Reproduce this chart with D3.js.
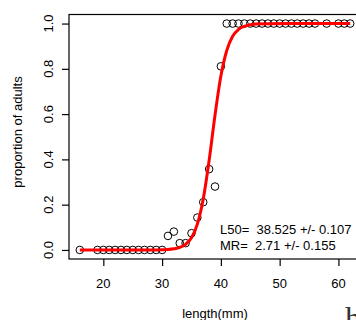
<!DOCTYPE html>
<html>
<head>
<meta charset="utf-8">
<script src="https://cdn.jsdelivr.net/npm/d3@7"></script>
<style>
body{margin:0;background:#fff;}
svg{display:block;font-family:"Liberation Sans",Arial,sans-serif;}
.tick-label,.axis-title,.note{font-size:13px;fill:#000;}
.note{white-space:pre;}
</style>
</head>
<body>
<div id="chart"></div>
<script>
// observed proportions by length (mm)
var lengths=[16,19,20,21,22,23,24,25,26,27,28,29,30,31,32,33,34,35,36,37,38,39,40,
    41,42,43,44,45,46,47,48,49,50,51,52,53,54,55,56,58,60,61,62];
var props=[0,0,0,0,0,0,0,0,0,0,0,0,0,0.062,0.081,0.03,0.03,0.074,0.143,0.211,0.357,0.28,0.811,
    1,1,1,1,1,1,1,1,1,1,1,1,1,1,1,1,1,1,1,1];
// fitted curve
var curveL=[16,28,30,31,32,33,34,35,36,37,38,39,40,41,42,43,44,45,46,48,52,62];
var curveP=[0,0.0002,0.001,0.002,0.005,0.011,0.025,0.054,0.114,0.225,0.395,0.595,0.768,0.881,0.944,0.974,0.988,0.995,0.998,0.9995,1,1];
var xTicks=[20,30,40,50,60];
var yTicks=[0,0.2,0.4,0.6,0.8,1.0];
var notes=["L50=  38.525 +/- 0.107","MR=  2.71 +/- 0.155"];

var W=356,H=320;
var svg=d3.select("#chart").append("svg").attr("width",W).attr("height",H);

var x=d3.scaleLinear().domain([14.16,63.84]).range([69,361]);
var y=d3.scaleLinear().domain([-0.04,1.04]).range([259,14.5]);

// box
svg.append("rect").attr("x",69).attr("y",14.5).attr("width",292).attr("height",244.5)
    .attr("fill","none").attr("stroke","#000").attr("stroke-width",1.2);

// axes (R style: ticks outward, labels set separately)
var gx=svg.append("g").attr("transform","translate(0,259)")
    .call(d3.axisBottom(x).tickValues(xTicks).tickSize(7).tickFormat(""));
gx.select(".domain").remove();
gx.selectAll("line").attr("stroke","#000").attr("stroke-width",1.2);
svg.selectAll("text.xl").data(xTicks).enter().append("text").attr("class","tick-label xl")
    .attr("x",function(d){return x(d);}).attr("y",288).attr("text-anchor","middle")
    .text(function(d){return d;});

var gy=svg.append("g").attr("transform","translate(69,0)")
    .call(d3.axisLeft(y).tickValues(yTicks).tickSize(7).tickFormat(""));
gy.select(".domain").remove();
gy.selectAll("line").attr("stroke","#000").attr("stroke-width",1.2);
svg.selectAll("text.yl").data(yTicks).enter().append("text").attr("class","tick-label yl")
    .attr("transform",function(d){return "translate(53,"+y(d)+") rotate(-90)";})
    .attr("text-anchor","middle").text(function(d){return d3.format(".1f")(d);});

// points
svg.selectAll("circle.pt").data(lengths).enter().append("circle").attr("class","pt")
    .attr("cx",function(d){return x(d);}).attr("cy",function(d,i){return y(props[i]);})
    .attr("r",3.8).attr("fill","none").attr("stroke","#000").attr("stroke-width",1);

// fitted curve
var line=d3.line().x(function(d){return x(d);}).y(function(d,i){return y(curveP[i]);}).curve(d3.curveMonotoneX);
svg.append("path").attr("d",line(curveL)).attr("fill","none").attr("stroke","#ff0000").attr("stroke-width",3);

// annotations
svg.selectAll("text.note").data(notes).enter().append("text").attr("class","note")
    .attr("x",220).attr("y",function(d,i){return 234+i*15.5;}).text(function(d){return d;});

svg.append("text").attr("class","axis-title").attr("x",215).attr("y",318).attr("text-anchor","middle").text("length(mm)");
svg.append("text").attr("class","axis-title").attr("transform","translate(21.5,132) rotate(-90)")
    .attr("text-anchor","middle").text("proportion of adults");
// fragment of a larger caption at the bottom edge
svg.append("text").attr("x",345).attr("y",329).attr("font-family","Liberation Serif,serif")
    .attr("font-size",32).attr("fill","#333").text("h");
</script>
</body>
</html>
